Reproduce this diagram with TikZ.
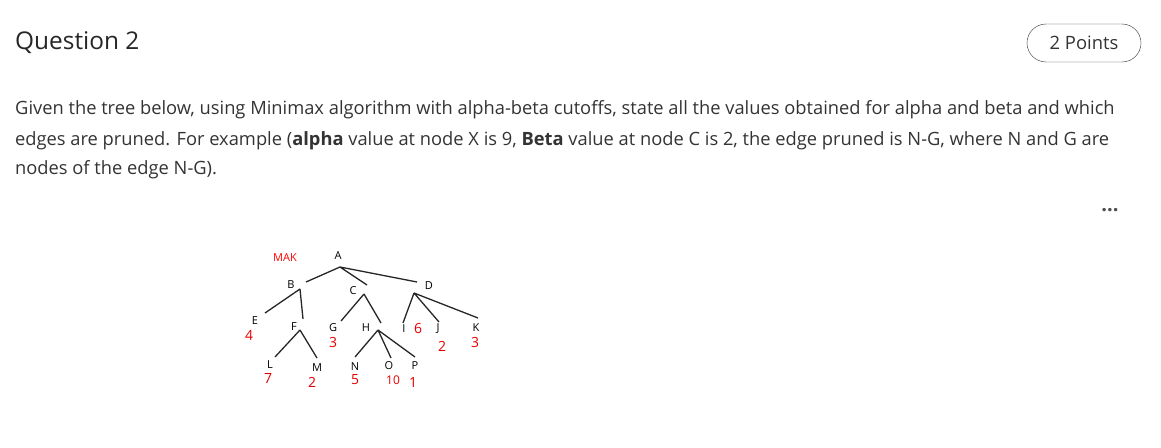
\documentclass[tikz,border=0pt]{standalone}
\usepackage{fontspec}
\setmainfont{Open Sans}
\begin{document}
\begin{tikzpicture}[x=1pt,y=-1pt,
  body/.style={anchor=west,inner sep=0pt,text=black!80,font=\fontsize{18.3}{22}\selectfont},
  edge/.style={line width=1.3pt,black!85},
  lab/.style={inner sep=0pt,font=\fontsize{11}{12}\selectfont},
  val/.style={inner sep=0pt,text=red!90!black,font=\fontsize{14}{14}\selectfont}]
\useasboundingbox (0,0) rectangle (1161,447);
\node[body,font=\fontsize{24.4}{28}\selectfont,text=black!85] (q) at (15,43) {Question 2};
\node[draw=black!80,rounded corners=19pt,minimum width=114pt,minimum height=38pt,font=\fontsize{18.4}{22}\selectfont,text=black!80] (pts) at (1084,43) {2 Points};
\node[body] (l1) at (15,110) {Given the tree below, using Minimax algorithm with alpha-beta cutoffs, state all the values obtained for alpha and beta and which};
\node[body] (l2) at (15,141) {edges are pruned. For example (\textbf{alpha} value at node X is 9, \textbf{Beta} value at node C is 2, the edge pruned is N-G, where N and G are};
\node[body] (l3) at (15,170) {nodes of the edge N-G).};
\node[text=black!70,font=\fontsize{20}{20}\selectfont\bfseries] (dots) at (1110,210) {...};
% tree
\node[lab,text=red] (mak) at (285,258) {MAK};
\node[lab] (A) at (338,256) {A};
\node[lab] (B) at (291,285) {B};
\node[lab] (C) at (353,291) {C};
\node[lab] (D) at (429,286) {D};
\node[lab] (E) at (255,321) {E};
\node[val] (e4) at (249,335) {4};
\node[lab] (F) at (294,327) {F};
\node[lab] (G) at (333,328) {G};
\node[val] (g3) at (333,342) {3};
\node[lab] (H) at (366,328) {H};
\node[lab] (I) at (404,329) {I};
\node[val] (i6) at (418,328) {6};
\node[lab] (J) at (438,329) {J};
\node[val] (j2) at (442,346) {2};
\node[lab] (K) at (476,328) {K};
\node[val] (k3) at (475,342) {3};
\node[lab] (L) at (270,365) {L};
\node[val] (l7) at (268,378) {7};
\node[lab] (M) at (317,368) {M};
\node[val] (m2) at (312,382) {2};
\node[lab] (N) at (355,367) {N};
\node[val] (n5) at (355,380) {5};
\node[lab] (O) at (389,366) {O};
\node[val,font=\fontsize{12}{12}\selectfont] (o10) at (393,380) {10};
\node[lab] (P) at (415,366) {P};
\node[val] (p1) at (413,382) {1};
\coordinate (a0) at (340,267);
\coordinate (b0) at (300,289);
\coordinate (c0) at (364,294);
\coordinate (d0) at (414,293);
\coordinate (f0) at (300,330);
\coordinate (h0) at (378,330);
\draw[edge] (a0) -- (306,282) (a0) -- (367,285) (a0) -- (417,282);
\draw[edge] (b0) -- (265,313) (b0) -- (303,319);
\draw[edge] (c0) -- (341,321) (c0) -- (381,323);
\draw[edge] (d0) -- (403,323) (d0) -- (439,322) (d0) -- (478,318);
\draw[edge] (f0) -- (275,357) (f0) -- (317,358);
\draw[edge] (h0) -- (355,357) (h0) -- (391,358) (h0) -- (415,357);
\end{tikzpicture}
\end{document}
